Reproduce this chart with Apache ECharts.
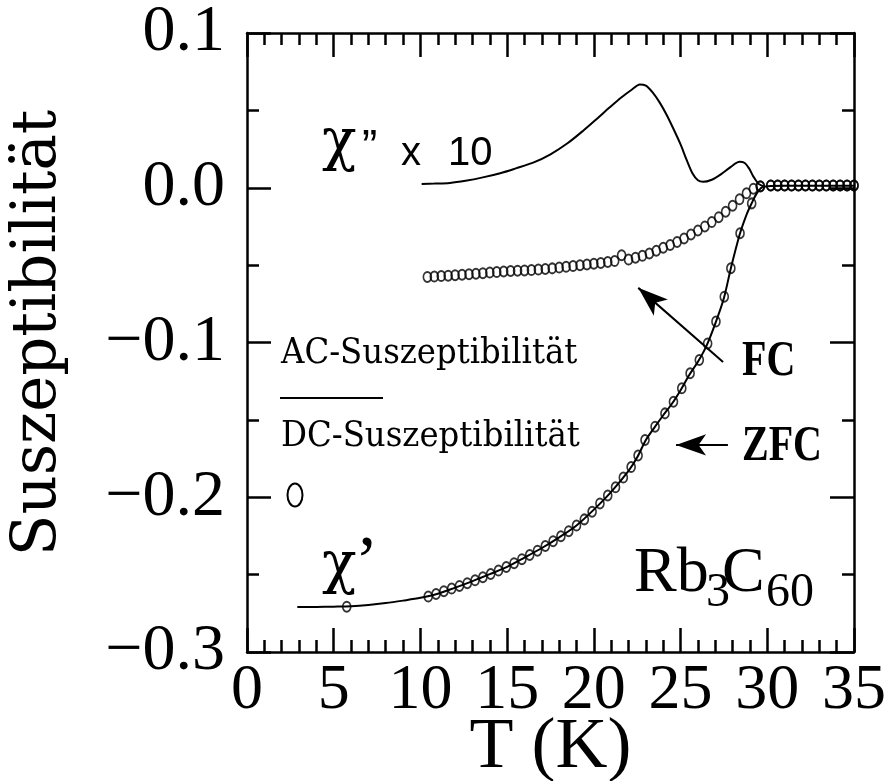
<!DOCTYPE html>
<html>
<head>
<meta charset="utf-8">
<script src="https://cdn.jsdelivr.net/npm/echarts@6/dist/echarts.min.js"></script>
<style>
  html, body { margin: 0; padding: 0; background: #fff; }
  #chart { width: 889px; height: 781px; }
</style>
</head>
<body>
<div id="chart"></div>
<script>
// Real part of the AC susceptibility, chi'(T)
const acRealT = [2.9, 4.0, 5.0, 6.0, 7.0, 8.0, 9.0, 10.0, 11.0, 12.0, 13.0, 14.0, 15.0, 16.0, 17.0, 18.0, 19.0, 20.0, 21.0, 22.0, 22.5, 23.0, 23.5, 24.0, 24.5, 25.0, 25.5, 26.0, 26.5, 27.0, 27.5, 27.9, 28.4, 28.8, 29.1, 29.4, 29.7, 30.2, 31.0, 33.0, 35.0];
const acRealV = [-0.2710, -0.2709, -0.2707, -0.2704, -0.2696, -0.2684, -0.2668, -0.2650, -0.2624, -0.2584, -0.2542, -0.2497, -0.2450, -0.2390, -0.2328, -0.2259, -0.2182, -0.2080, -0.1965, -0.1830, -0.1742, -0.1630, -0.1548, -0.1470, -0.1396, -0.1308, -0.1210, -0.1125, -0.1020, -0.0878, -0.0712, -0.0520, -0.0305, -0.0175, -0.0100, -0.0035, 0.0002, 0.0012, 0.0013, 0.0013, 0.0013];

// Imaginary part of the AC susceptibility, chi''(T) x 10
const acImagT = [10.07, 10.8, 11.7, 12.6, 13.6, 14.6, 15.5, 16.5, 17.5, 18.5, 19.4, 20.2, 20.9, 21.6, 22.2, 22.65, 23.0, 23.4, 23.8, 24.2, 24.6, 25.0, 25.35, 25.7, 26.0, 26.3, 26.8, 27.3, 27.9, 28.4, 28.7, 28.95, 29.2, 29.5, 29.8];
const acImagV = [0.0025, 0.0027, 0.0031, 0.0045, 0.0067, 0.0094, 0.0125, 0.0162, 0.0216, 0.0289, 0.0370, 0.0448, 0.0518, 0.0585, 0.0635, 0.0668, 0.0660, 0.0615, 0.0550, 0.0470, 0.0378, 0.0280, 0.0180, 0.0090, 0.0048, 0.0038, 0.0052, 0.0085, 0.0135, 0.0168, 0.0160, 0.0125, 0.0072, 0.0025, 0.0008];

// DC susceptibility, field cooled
const fcT = [10.4, 10.8, 11.2, 11.6, 12.0, 12.4, 12.8, 13.2, 13.6, 14.0, 14.4, 14.8, 15.2, 15.6, 16.0, 16.4, 16.8, 17.2, 17.6, 18.0, 18.4, 18.8, 19.2, 19.6, 20.0, 20.4, 20.8, 21.2, 21.6, 22.0, 22.4, 22.8, 23.2, 23.6, 24.0, 24.4, 24.8, 25.2, 25.6, 26.0, 26.4, 26.8, 27.2, 27.6, 28.0, 28.4, 28.8, 29.2, 29.6, 30.2, 30.6, 31.0, 31.4, 31.8, 32.2, 32.6, 33.0, 33.4, 33.8, 34.2, 34.6, 35.0];
const fcV = [-0.0576, -0.0574, -0.0571, -0.0568, -0.0565, -0.0562, -0.0559, -0.0556, -0.0552, -0.0548, -0.0545, -0.0541, -0.0538, -0.0536, -0.0534, -0.0532, -0.0529, -0.0525, -0.0521, -0.0516, -0.0511, -0.0506, -0.0501, -0.0496, -0.0491, -0.0486, -0.0480, -0.0474, -0.0436, -0.0464, -0.0452, -0.0440, -0.0425, -0.0407, -0.0388, -0.0370, -0.0350, -0.0328, -0.0302, -0.0276, -0.0250, -0.0222, -0.0190, -0.0155, -0.0116, -0.0075, -0.0036, -0.0006, 0.0010, 0.0015, 0.0015, 0.0015, 0.0015, 0.0015, 0.0015, 0.0015, 0.0015, 0.0015, 0.0015, 0.0015, 0.0015, 0.0015];

// DC susceptibility, zero-field cooled
const zfcT = [5.75, 10.45, 10.9, 11.35, 11.8, 12.25, 12.7, 13.15, 13.6, 14.05, 14.5, 14.95, 15.4, 15.85, 16.3, 16.75, 17.2, 17.65, 18.1, 18.55, 19.0, 19.45, 19.9, 20.35, 20.8, 21.25, 21.7, 22.15, 22.55, 22.95, 23.53, 24.1, 24.59, 25.07, 25.55, 26.08, 26.56, 27.04, 27.52, 27.9, 28.43, 29.1, 29.6, 30.2, 30.6, 31.0, 31.4, 31.8, 32.2, 32.6, 33.0, 33.4, 33.8, 34.2, 34.6, 35.0];
const zfcV = [-0.2707, -0.2642, -0.2625, -0.2607, -0.2590, -0.2573, -0.2555, -0.2537, -0.2517, -0.2496, -0.2474, -0.2451, -0.2426, -0.2400, -0.2373, -0.2345, -0.2315, -0.2284, -0.2252, -0.2219, -0.2183, -0.2143, -0.2094, -0.2040, -0.1989, -0.1936, -0.1873, -0.1805, -0.1730, -0.1630, -0.1544, -0.1458, -0.1383, -0.1296, -0.1199, -0.1113, -0.1006, -0.0865, -0.0704, -0.0520, -0.0294, -0.0101, 0.0008, 0.0015, 0.0015, 0.0015, 0.0015, 0.0015, 0.0015, 0.0015, 0.0015, 0.0015, 0.0015, 0.0015, 0.0015, 0.0015];

const pairs = (xs, ys) => xs.map((x, i) => [x, ys[i]]);

const serif = 'Liberation Serif';
const keyFont = '"DejaVu Serif Condensed", "Liberation Serif"';
const black = '#000';

const axisLine = { show: true, onZero: false, lineStyle: { color: black, width: 2.5 } };
const majorTick = { show: true, inside: true, length: 24, lineStyle: { color: black, width: 2.5 } };

function yLabel(v) {
  const s = Math.abs(v).toFixed(1);
  return v < -1e-9 ? '\u2212' + s : s;
}

function xAxisDef(position, showLabels) {
  return {
    type: 'value', position, min: 0, max: 35, interval: 5,
    axisLine, axisTick: majorTick,
    minorTick: { show: true, splitNumber: 5, length: 12, lineStyle: { color: black, width: 2.5 } },
    splitLine: { show: false },
    axisLabel: { show: showLabels, margin: 7, fontFamily: serif, fontSize: 64, color: black },
    name: showLabels ? 'T (K)' : '',
    nameLocation: 'middle', nameGap: 60, nameMoveOverlap: false,
    nameTextStyle: { fontFamily: serif, fontSize: 72, color: black }
  };
}

function yAxisDef(position, showLabels) {
  return {
    type: 'value', position, min: -0.3, max: 0.1, interval: 0.1,
    axisLine, axisTick: majorTick,
    minorTick: { show: true, splitNumber: 2, length: 12, lineStyle: { color: black, width: 2.5 } },
    splitLine: { show: false },
    axisLabel: { show: showLabels, margin: 22, fontFamily: serif, fontSize: 66, color: black, formatter: yLabel }
  };
}

const circleItem = { color: 'rgba(0,0,0,0)', borderColor: black, borderWidth: 1.8 };

function txt(x, y, text, size, family, extra) {
  return Object.assign({
    type: 'text', x, y,
    style: Object.assign({
      text, fontSize: size, fontFamily: family, fill: black,
      align: 'left', verticalAlign: 'middle'
    }, (extra && extra.style) || {})
  }, (extra && extra.props) || {});
}

const option = {
  animation: false,
  backgroundColor: '#fff',
  grid: { left: 247, right: 35, top: 33, bottom: 129, containLabel: false, outerBoundsMode: 'none' },
  xAxis: [xAxisDef('bottom', true), xAxisDef('top', false)],
  yAxis: [yAxisDef('left', true), yAxisDef('right', false)],
  series: [
    {
      name: "chi'", type: 'line', xAxisIndex: 0, yAxisIndex: 0,
      data: pairs(acRealT, acRealV), showSymbol: false, smooth: 0.3,
      lineStyle: { color: black, width: 2 }, z: 2
    },
    {
      name: "chi'' x 10", type: 'line', xAxisIndex: 0, yAxisIndex: 0,
      data: pairs(acImagT, acImagV), showSymbol: false, smooth: 0.3,
      lineStyle: { color: black, width: 2 }, z: 2
    },
    {
      name: 'FC', type: 'scatter', xAxisIndex: 0, yAxisIndex: 0,
      data: pairs(fcT, fcV), symbol: 'circle', symbolSize: [8, 10],
      itemStyle: circleItem, z: 3,
      markLine: {
        silent: true, animation: false,
        symbol: ['none', 'arrow'], symbolSize: [16, 30],
        label: { show: false },
        lineStyle: { color: black, width: 2, type: 'solid' },
        itemStyle: { color: black },
        data: [
          [{ coord: [27.45, -0.1126] }, { coord: [22.56, -0.0647] }],
          [{ coord: [27.73, -0.1662] }, { coord: [24.74, -0.1662] }]
        ]
      }
    },
    {
      name: 'ZFC', type: 'scatter', xAxisIndex: 0, yAxisIndex: 0,
      data: pairs(zfcT, zfcV), symbol: 'circle', symbolSize: [8, 10],
      itemStyle: circleItem, z: 3
    }
  ],
  graphic: [
    // axis title, rotated
    { type: 'text', x: 39, y: 333, rotation: Math.PI / 2,
      style: { text: 'Suszeptibilität', fontSize: 61, fontFamily: 'DejaVu Serif', fill: black, align: 'center', verticalAlign: 'middle' } },
    // chi'' x 10 label
    txt(322, 144, 'χ', 57, 'DejaVu Serif'),
    txt(362, 149, '”', 46, 'Liberation Sans'),
    txt(401, 154, 'x', 40, 'Liberation Sans'),
    txt(448, 154, '10', 40, 'Liberation Sans'),
    // chi' label
    txt(322, 567, 'χ', 57, 'DejaVu Serif'),
    txt(355, 566, '’', 70, serif),
    // key
    txt(281, 354, 'AC-Suszeptibilität', 36, keyFont),
    { type: 'line', shape: { x1: 280, y1: 398, x2: 383, y2: 398 }, style: { stroke: black, lineWidth: 2 } },
    txt(281, 437, 'DC-Suszeptibilität', 36, keyFont),
    { type: 'ellipse', shape: { cx: 295, cy: 495, rx: 7.5, ry: 11.5 }, style: { fill: 'none', stroke: black, lineWidth: 2 } },
    // arrow captions
    txt(742, 362, 'FC', 50, serif, { style: { fontWeight: 'bold' }, props: { scaleX: 0.8 } }),
    txt(742, 447, 'ZFC', 50, serif, { style: { fontWeight: 'bold' }, props: { scaleX: 0.8 } }),
    // compound name Rb3C60
    txt(634, 574, 'Rb', 64, serif),
    txt(706, 593, '3', 48, serif),
    txt(722, 574, 'C', 64, serif),
    txt(766, 593, '60', 48, serif)
  ]
};

const chart = echarts.init(document.getElementById('chart'), null, { renderer: 'canvas' });
chart.setOption(option);
</script>
</body>
</html>
